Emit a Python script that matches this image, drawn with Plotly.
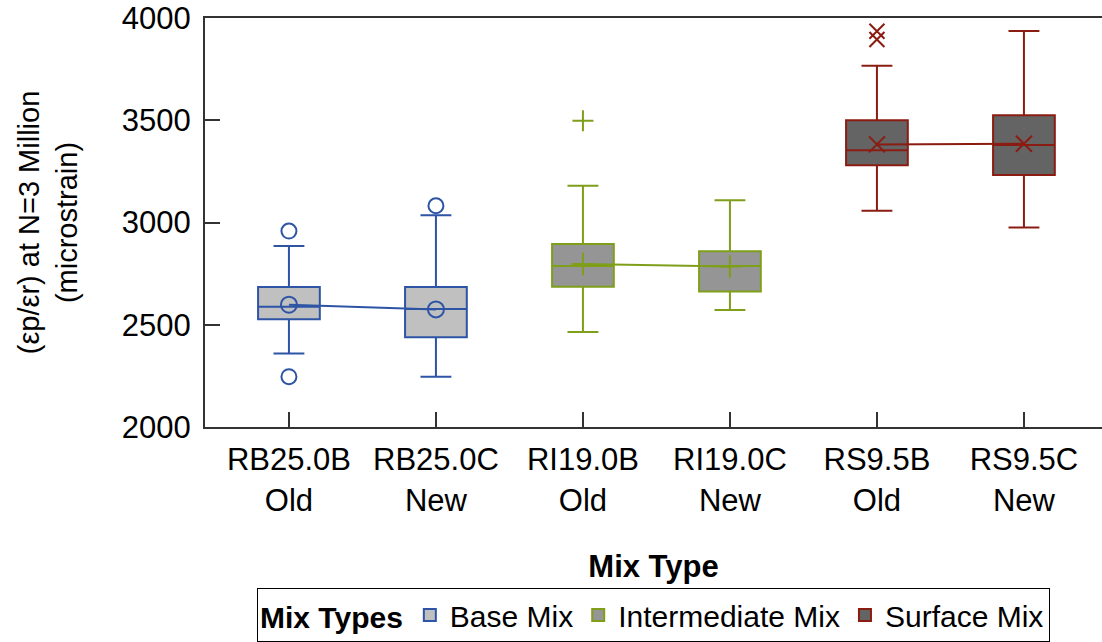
import plotly.graph_objects as go

categories = ["RB25.0B<br>Old", "RB25.0C<br>New", "RI19.0B<br>Old", "RI19.0C<br>New", "RS9.5B<br>Old", "RS9.5C<br>New"]
groups = ["Base Mix", "Base Mix", "Intermediate Mix", "Intermediate Mix", "Surface Mix", "Surface Mix"]
q1 = [2527, 2439, 2686, 2662, 3280, 3232]
median = [2588, 2577, 2787, 2787, 3353, 3379]
q3 = [2685, 2685, 2895, 2859, 3500, 3524]
lowerfence = [2360, 2246, 2465, 2572, 3058, 2975]
upperfence = [2885, 3035, 3180, 3109, 3767, 3936]
means = [2598, 2575, 2797, 2785, 3382, 3385]
outliers = [[2958, 2246], [3082], [3498], [], [3935, 3895], []]

group_names = ["Base Mix", "Intermediate Mix", "Surface Mix"]
line_colors = {"Base Mix": "#2E54A6", "Intermediate Mix": "#7F9F1B", "Surface Mix": "#8B1C12"}
fill_colors = {"Base Mix": "#C0C0C0", "Intermediate Mix": "#959595", "Surface Mix": "#646464"}
symbols = {"Base Mix": "circle-open", "Intermediate Mix": "cross-thin-open", "Surface Mix": "x-thin-open"}

FONT = "Liberation Sans, Arial, sans-serif"
fig = go.Figure()

shown = set()
for i, g in enumerate(groups):
    fig.add_trace(go.Box(
        x=[i], q1=[q1[i]], median=[median[i]], q3=[q3[i]],
        lowerfence=[lowerfence[i]], upperfence=[upperfence[i]],
        name=g, legendgroup=g, showlegend=g not in shown,
        fillcolor=fill_colors[g], line=dict(color=line_colors[g], width=2),
        width=0.42, whiskerwidth=0.5, boxpoints=False, hoverinfo="skip",
    ))
    shown.add(g)

for g in group_names:
    idx = [i for i, gg in enumerate(groups) if gg == g]
    fig.add_trace(go.Scatter(
        x=idx, y=[means[i] for i in idx], mode="lines+markers",
        line=dict(color=line_colors[g], width=2),
        marker=dict(symbol=symbols[g], size=16, color=line_colors[g], line=dict(width=2, color=line_colors[g])),
        showlegend=False, hoverinfo="skip",
    ))
    ox, oy = [], []
    for i in idx:
        for v in outliers[i]:
            ox.append(i)
            oy.append(v)
    if ox:
        fig.add_trace(go.Scatter(
            x=ox, y=oy, mode="markers",
            marker=dict(symbol=symbols[g], size=15, color=line_colors[g], line=dict(width=2, color=line_colors[g])),
            showlegend=False, hoverinfo="skip",
        ))

fig.update_layout(
    width=1102, height=642,
    margin=dict(l=205, r=0, t=18, b=215),
    plot_bgcolor="white", paper_bgcolor="white",
    font=dict(family=FONT, size=30, color="black"),
    xaxis=dict(
        range=[-0.571, 5.531], tickvals=list(range(6)), ticktext=categories,
        ticks="inside", ticklen=15, tickwidth=1.5, tickcolor="#333",
        showline=True, linecolor="#333", linewidth=2, mirror=True,
        showgrid=False, zeroline=False,
        tickfont=dict(size=31), ticklabelstandoff=4,
        title=dict(text="<b>Mix Type</b>", font=dict(size=31), standoff=39),
    ),
    yaxis=dict(
        range=[2000, 4000], tickvals=[2000, 2500, 3000, 3500, 4000],
        ticks="inside", ticklen=15, tickwidth=1.5, tickcolor="#333",
        showline=True, linecolor="#333", linewidth=2,
        showgrid=False, zeroline=False,
        tickfont=dict(size=31), ticklabelstandoff=6,
        title=dict(text="(εp/εr) at N=3 Million<br>(microstrain)", font=dict(size=29), standoff=36),
    ),
    legend=dict(
        orientation="h", x=0.5, xanchor="center", xref="paper",
        y=0.0, yanchor="bottom", yref="container",
        bordercolor="black", borderwidth=1,
        font=dict(size=30),
        title=dict(text="<b>Mix Types</b>", font=dict(size=30)),
        itemwidth=30, tracegroupgap=0, valign="middle",
    ),
    showlegend=True,
)

fig.write_html("out.html")
